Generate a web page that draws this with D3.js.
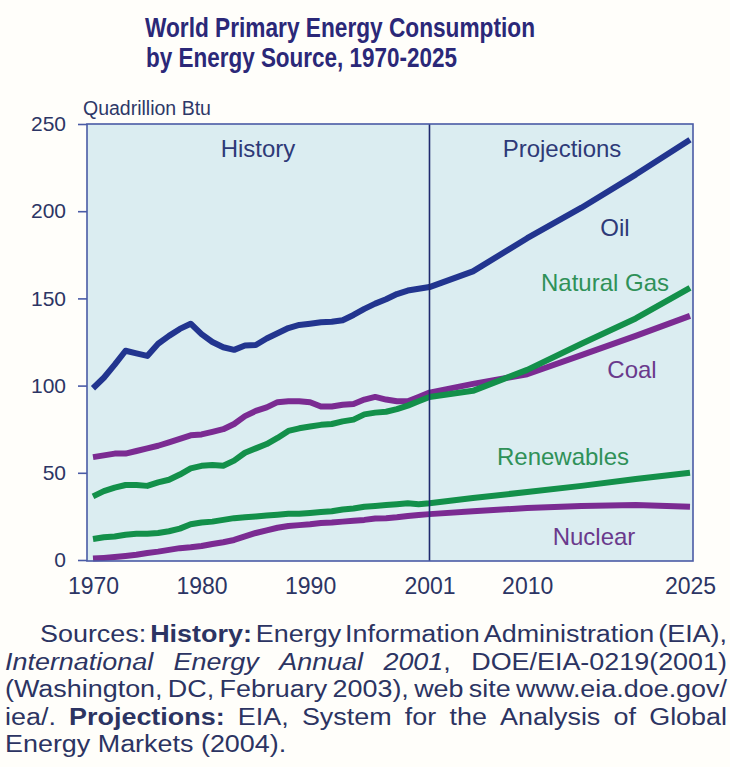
<!DOCTYPE html>
<html>
<head>
<meta charset="utf-8">
<script src="https://cdn.jsdelivr.net/npm/d3@7"></script>
<style>
  html, body { margin: 0; padding: 0; background: #fffefa; }
  svg { display: block; font-family: "Liberation Sans", Arial, sans-serif; }
</style>
</head>
<body>
<script>
// ---------------- DATA ----------------
const years = [1970,1971,1972,1973,1974,1975,1976,1977,1978,1979,
               1980,1981,1982,1983,1984,1985,1986,1987,1988,1989,
               1990,1991,1992,1993,1994,1995,1996,1997,1998,1999,
               2000,2001,2005,2010,2015,2020,2025];

const oil = [98.5,104.5,112,120,118.5,117,124,128.5,132.5,135.5,
             129.5,125,122,120.5,123,123.3,127,130,133,134.8,
             135.5,136.3,136.6,137.5,140.5,144,147,149.5,152.5,154.5,
             155.5,156.5,165.5,184.5,202,221,241];

const naturalGas = [36.5,39.5,41.5,43,43,42.5,44.5,46,49,52.5,
                    54,54.5,54,57,61.5,64,66.5,70,74,75.5,
                    76.5,77.5,78,79.5,80.5,83.5,84.5,85,86.5,88.5,
                    91,93.5,97,109,124,138.5,156];

const coal = [59,60,61,61,62.5,64,65.5,67.5,69.5,71.5,
              72,73.5,75,78,82.5,85.5,87.5,90.5,91,91,
              90.5,88,88,89,89.5,92,93.5,92,91,91,
              93.5,96,101,106.5,117.5,128.5,140];

const renewables = [12,13,13.5,14.5,15,15,15.5,16.5,18,20.5,
                    21.5,22,23,24,24.5,25,25.5,26,26.5,26.5,
                    27,27.5,28,29,29.5,30.5,31,31.5,32,32.5,
                    32,32.5,35.5,39,42.5,46.5,50];

const nuclear = [0.8,1.2,1.7,2.3,3,4,4.8,5.8,6.8,7.3,
                 8,9.2,10.2,11.5,13.5,15.5,17,18.5,19.5,20,
                 20.5,21.2,21.5,22,22.5,23,23.8,24,24.5,25.2,
                 25.8,26.3,28,29.8,31,31.5,30.5];

const yTicks = [0,50,100,150,200,250];
const xTickYears = [1970,1980,1990,2001,2010,2025];
const divideYear = 2001;

const titleLines = ["World Primary Energy Consumption", "by Energy Source, 1970-2025"];
const unitLabel = "Quadrillion Btu";

const seriesList = [
  {name:"Coal",        values: coal,        color:"#7b2b92", text:"#6a3a8c"},
  {name:"Nuclear",     values: nuclear,     color:"#7b2b92", text:"#6a3a8c"},
  {name:"Natural Gas", values: naturalGas,  color:"#13904a", text:"#2f9158"},
  {name:"Renewables",  values: renewables,  color:"#13904a", text:"#2f9158"},
  {name:"Oil",         values: oil,         color:"#22358f", text:"#2e3a78"}
];

const sourceLines = [
  {x0: 40, runs: [["Sources: ","n"],["History:","b"],[" Energy Information Administration (EIA),","n"]]},
  {x0: 5,  runs: [["International Energy Annual 2001","i"],[", DOE/EIA-0219(2001)","n"]]},
  {x0: 5,  runs: [["(Washington, DC, February 2003), web site www.eia.doe.gov/","n"]]},
  {x0: 5,  runs: [["iea/. ","n"],["Projections:","b"],[" EIA, System for the Analysis of Global","n"]]},
  {x0: 5,  runs: [["Energy Markets (2004).","n"]], last: true}
];

// ---------------- LAYOUT ----------------
const W = 730, H = 767;
const frame = {left: 87, right: 693, top: 124, bottom: 561};

const svg = d3.select("body").append("svg").attr("width", W).attr("height", H);

const x = d3.scaleLinear().domain([1970, 2025]).range([93, 690]);
const y = d3.scaleLinear().domain([0, 250]).range([560, 124]);

// Title
const title = svg.append("g").attr("fill", "#2b2878")
  .attr("font-weight", "bold").attr("font-size", 28);
title.append("text").attr("x", 145).attr("y", 37).text(titleLines[0])
  .attr("textLength", 390).attr("lengthAdjust", "spacingAndGlyphs");
title.append("text").attr("x", 146).attr("y", 67).text(titleLines[1])
  .attr("textLength", 311).attr("lengthAdjust", "spacingAndGlyphs");

// Unit label
svg.append("text").attr("x", 83).attr("y", 115).attr("font-size", 19.5)
  .attr("fill", "#2e3868").text(unitLabel);

// Plot background
svg.append("rect")
  .attr("x", frame.left).attr("y", frame.top)
  .attr("width", frame.right - frame.left).attr("height", frame.bottom - frame.top)
  .attr("fill", "#dbedf1");

// Lines
const line = d3.line()
  .x((d, i) => x(years[i]))
  .y(d => y(d))
  .curve(d3.curveLinear);

svg.append("g").selectAll("path").data(seriesList).join("path")
  .attr("d", d => line(d.values))
  .attr("fill", "none")
  .attr("stroke", d => d.color)
  .attr("stroke-width", 6)
  .attr("stroke-linejoin", "round")
  .attr("stroke-linecap", "butt");

// Divider
svg.append("line")
  .attr("x1", x(divideYear)).attr("x2", x(divideYear))
  .attr("y1", frame.top).attr("y2", frame.bottom)
  .attr("stroke", "#1f2a6e").attr("stroke-width", 1.6);

// Frame
svg.append("rect")
  .attr("x", frame.left).attr("y", frame.top)
  .attr("width", frame.right - frame.left).attr("height", frame.bottom - frame.top)
  .attr("fill", "none").attr("stroke", "#4a5ba6").attr("stroke-width", 1.6);

// Y axis
const yAxis = svg.append("g")
  .attr("transform", `translate(${frame.left},0)`)
  .call(d3.axisLeft(y).tickValues(yTicks).tickSize(9).tickPadding(12).tickFormat(d3.format("d")));
yAxis.select(".domain").remove();
yAxis.selectAll(".tick line").attr("stroke", "#4a5ba6").attr("stroke-width", 1.6);
yAxis.selectAll(".tick text").attr("font-size", 21).attr("fill", "#2c3564")
  .attr("font-family", "'Liberation Sans', Arial, sans-serif");

// X axis
const xAxis = svg.append("g")
  .attr("transform", `translate(0,${frame.bottom})`)
  .call(d3.axisBottom(x).tickValues(xTickYears).tickSize(0).tickPadding(17).tickFormat(d3.format("d")));
xAxis.select(".domain").remove();
xAxis.selectAll(".tick text").attr("font-size", 23).attr("fill", "#2c3564")
  .attr("font-family", "'Liberation Sans', Arial, sans-serif");

// Region labels
const labels = svg.append("g").attr("font-size", 24).attr("text-anchor", "middle");
labels.append("text").attr("x", 258).attr("y", 157).attr("fill", "#2e3a78").text("History");
labels.append("text").attr("x", 562).attr("y", 157).attr("fill", "#2e3a78").text("Projections");

// Series labels
const seriesLabelPos = {
  "Oil":         [615, 236],
  "Natural Gas": [605, 291],
  "Coal":        [632, 378],
  "Renewables":  [563, 465],
  "Nuclear":     [594, 545]
};
labels.selectAll("text.series").data(seriesList).join("text")
  .attr("class", "series")
  .attr("x", d => seriesLabelPos[d.name][0])
  .attr("y", d => seriesLabelPos[d.name][1])
  .attr("fill", d => d.text)
  .text(d => d.name);

// Sources (justified)
const src = svg.append("g").attr("font-size", 23).attr("fill", "#2c3462");
const rightEdge = 727;
const stretch = 1.17;
sourceLines.forEach((ln, li) => {
  const baseY = 642 + li * 27.5;
  // build words as arrays of [text, style] pieces
  const words = [];
  let cur = [];
  ln.runs.forEach(([txt, st]) => {
    const parts = txt.split(" ");
    parts.forEach((p, pi) => {
      if (pi > 0) { if (cur.length) words.push(cur); cur = []; }
      if (p.length) cur.push([p, st]);
    });
  });
  if (cur.length) words.push(cur);

  const nodes = words.map(w => {
    const t = src.append("text").attr("y", baseY);
    w.forEach(([p, st]) => {
      t.append("tspan").text(p)
        .attr("font-weight", st === "b" ? "bold" : null)
        .attr("font-style", st === "i" ? "italic" : null);
    });
    const nat = t.node().getComputedTextLength();
    const wid = nat * stretch;
    t.attr("textLength", wid).attr("lengthAdjust", "spacingAndGlyphs");
    return {t, wid};
  });
  const spaceW = 23 * 0.278 * stretch;
  const total = d3.sum(nodes, n => n.wid);
  let gap = spaceW;
  if (!ln.last && nodes.length > 1) gap = (rightEdge - ln.x0 - total) / (nodes.length - 1);
  let cx = ln.x0;
  nodes.forEach(n => { n.t.attr("x", cx); cx += n.wid + gap; });
});
</script>
</body>
</html>
